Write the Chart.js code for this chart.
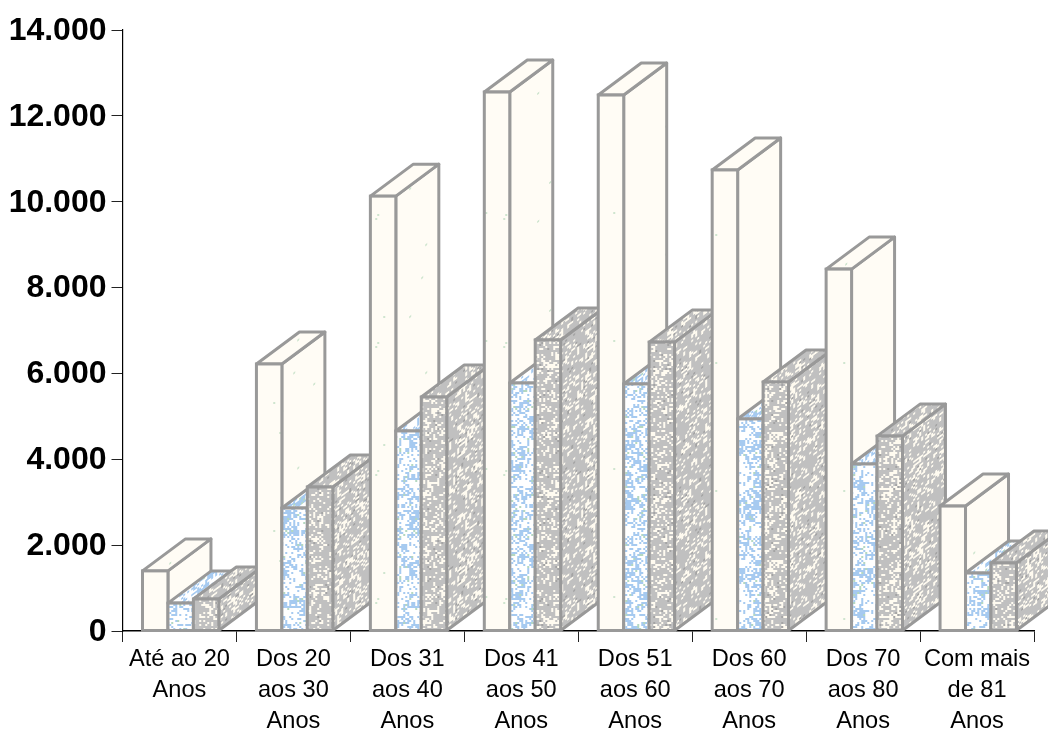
<!DOCTYPE html>
<html>
<head>
<meta charset="utf-8">
<style>
  html, body { margin: 0; padding: 0; background: #fff; overflow: hidden; }
  canvas { display: block; }
</style>
<script src="https://cdn.jsdelivr.net/npm/chart.js@4/dist/chart.umd.min.js"></script>
</head>
<body>
<canvas id="grafico" width="1048" height="731"></canvas>
<script>
const categories = [
  ['Até ao 20', 'Anos'],
  ['Dos 20', 'aos 30', 'Anos'],
  ['Dos 31', 'aos 40', 'Anos'],
  ['Dos 41', 'aos 50', 'Anos'],
  ['Dos 51', 'aos 60', 'Anos'],
  ['Dos 60', 'aos 70', 'Anos'],
  ['Dos 70', 'aos 80', 'Anos'],
  ['Com mais', 'de 81', 'Anos']
];
const serieA = [1400, 6220, 10130, 12555, 12485, 10740, 8430, 2910];
const serieB = [650, 2865, 4660, 5777, 5755, 4940, 3890, 1350];
const serieC = [745, 3354, 5450, 6780, 6730, 5800, 4540, 1585];
const yTicks = ['0', '2.000', '4.000', '6.000', '8.000', '10.000', '12.000', '14.000'];

// profundidade do efeito 3D
const DEPTH_X = 43;
const DEPTH_Y = 32;
const EDGE = '#999999';
const EDGE_W = 3;

// textura pontilhada das barras (hash fixo, sem aleatorio)
function hash(x, y, s) {
  let h = (x * 374761393 + y * 668265263 + s * 2147483647) | 0;
  h = Math.imul(h ^ (h >>> 13), 1274126177);
  return ((h ^ (h >>> 16)) >>> 0) / 4294967296;
}

function makePattern(base, dots, cell, seed) {
  const c = document.createElement('canvas');
  c.width = c.height = 128;
  const g = c.getContext('2d');
  g.fillStyle = base;
  g.fillRect(0, 0, 128, 128);
  for (let x = 0; x < 128; x += cell) {
    for (let y = 0; y < 128; y += cell) {
      // manchas: a densidade varia por zona
      const zone = hash(x >> 3, y >> 3, seed + 7);
      const r = hash(x, y, seed);
      let acc = 0;
      for (const d of dots) {
        acc += d.p * (0.2 + zone * 1.6);
        if (r < acc) {
          g.fillStyle = d.color;
          g.fillRect(x, y, cell, cell);
          break;
        }
      }
    }
  }
  return g.createPattern(c, 'repeat');
}

// mesma textura, mas inclinada para as faces laterais
function skewed(pattern) {
  pattern.setTransform(new DOMMatrix([1, -DEPTH_Y / DEPTH_X, 0, 1, 0, 0]));
  return pattern;
}

const dotsA = [{ color: '#CFE5CF', p: 0.0015 }];
const dotsB = [{ color: '#A6CAF0', p: 0.36 }, { color: '#B4D8C0', p: 0.03 }];
const dotsC = [{ color: '#FFFBF0', p: 0.26 }, { color: '#A4A4A4', p: 0.03 }];

const ctx = document.getElementById('grafico').getContext('2d');
const fronts = [makePattern('#FFFCF5', dotsA, 2, 1), makePattern('#FFFFFF', dotsB, 2, 2), makePattern('#C0C0C0', dotsC, 2, 3)];
const sides = [skewed(makePattern('#FFFCF5', dotsA, 2, 4)), skewed(makePattern('#FFFFFF', dotsB, 2, 5)), skewed(makePattern('#C0C0C0', dotsC, 2, 6))];

// desenha categoria a categoria para as faces laterais ficarem bem sobrepostas
const bars3d = {
  id: 'bars3d',
  beforeDatasetsDraw(chart) {
    const c = chart.ctx;
    c.save();
    c.translate(1.2, 0);
    categories.forEach((cat, i) => {
      chart.data.datasets.forEach((ds, d) => {
        const el = chart.getDatasetMeta(d).data[i];
        const { x, y, base, width } = el.getProps(['x', 'y', 'base', 'width']);
        const l = x - width / 2;
        const r = x + width / 2;
        c.save();
        c.fillStyle = sides[d];
        c.strokeStyle = EDGE;
        c.lineWidth = EDGE_W;
        c.lineJoin = 'round';
        // lado
        c.beginPath();
        c.moveTo(r, y);
        c.lineTo(r + DEPTH_X, y - DEPTH_Y);
        c.lineTo(r + DEPTH_X, base - DEPTH_Y);
        c.lineTo(r, base);
        c.closePath();
        c.fill();
        c.stroke();
        // topo
        c.beginPath();
        c.moveTo(l, y);
        c.lineTo(l + DEPTH_X, y - DEPTH_Y);
        c.lineTo(r + DEPTH_X, y - DEPTH_Y);
        c.lineTo(r, y);
        c.closePath();
        c.fill();
        c.stroke();
        c.restore();
        // frente
        el.draw(c);
        c.save();
        c.strokeStyle = EDGE;
        c.lineWidth = EDGE_W;
        c.strokeRect(l, y, width, base - y);
        c.restore();
      });
    });
    c.restore();
    return false;
  }
};

new Chart(ctx, {
  type: 'bar',
  plugins: [bars3d],
  data: {
    labels: categories,
    datasets: [
      { data: serieA, backgroundColor: fronts[0] },
      { data: serieB, backgroundColor: fronts[1] },
      { data: serieC, backgroundColor: fronts[2] }
    ]
  },
  options: {
    responsive: false,
    animation: false,
    events: [],
    layout: { padding: { top: 30, right: 14, left: 0, bottom: 0 } },
    datasets: { bar: { categoryPercentage: 0.67, barPercentage: 1, borderWidth: 0 } },
    plugins: { legend: { display: false }, tooltip: { enabled: false }, title: { display: false } },
    scales: {
      x: {
        afterFit(scale) { scale.height = 100; },
        border: { color: '#000', width: 1.5 },
        grid: { drawOnChartArea: false, color: '#222', tickLength: 11, lineWidth: 1 },
        ticks: {
          maxRotation: 0,
          autoSkip: false,
          padding: 2,
          color: '#000',
          font: { family: '"Liberation Sans"', size: 23.6, lineHeight: 1.31 }
        }
      },
      y: {
        min: 0,
        max: 14000,
        afterFit(scale) { scale.width = 122.5; },
        border: { color: '#000', width: 1.2 },
        grid: { drawOnChartArea: false, color: '#222', tickLength: 11, lineWidth: 1 },
        ticks: {
          stepSize: 2000,
          padding: 5,
          labelOffset: 1,
          color: '#000',
          font: { family: '"Liberation Sans"', size: 32, weight: 'bold' },
          callback(v, idx) { return yTicks[idx]; }
        }
      }
    }
  }
});
</script>
</body>
</html>
